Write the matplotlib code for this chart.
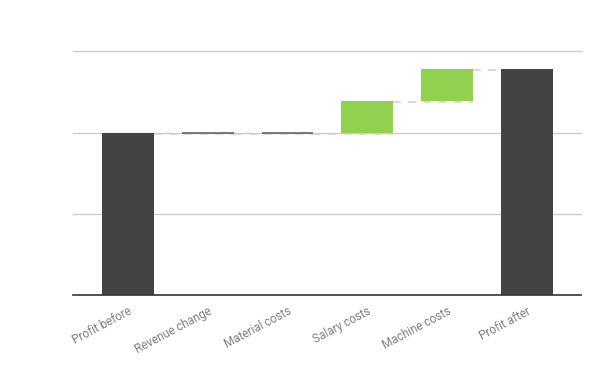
import matplotlib.pyplot as plt
import numpy as np

categories = ["Profit before", "Revenue change", "Material costs",
              "Salary costs", "Machine costs", "Profit after"]
changes = [200, 0, 0, 39, 40]   # first is the starting total
is_total = [True, False, False, False, False, True]

# cumulative levels
levels = np.cumsum(changes)
total_after = levels[-1]
values = changes + [total_after]

bottoms, heights, colors = [], [], []
running = 0
for i, v in enumerate(values):
    if is_total[i]:
        bottoms.append(0)
        heights.append(v)
        colors.append("#434343")
        running = v
    else:
        bottoms.append(running)
        heights.append(v)
        colors.append("#92d050" if v > 0 else "#e06666")
        running += v

fig = plt.figure(figsize=(6, 3.71), dpi=100)
ax = fig.add_axes([0.1217, 0.2049, 0.8466, 0.6563])

x = np.arange(len(categories))
w = 0.65

# gridlines
for g in [100, 200, 300]:
    ax.axhline(g, color="#cccccc", lw=1, zorder=0, clip_on=False)

ax.bar(x, heights, bottom=bottoms, width=w, color=colors, zorder=3)
# zero-change bars show as a thin line
for i, h in enumerate(heights):
    if h == 0:
        ax.hlines(bottoms[i], x[i] - w / 2, x[i] + w / 2, color="#666666", lw=1.2, zorder=4)

# dashed connectors between bars
tops = [b + h for b, h in zip(bottoms, heights)]
for i in range(len(categories) - 1):
    ax.plot([x[i] + w / 2, x[i + 1] + w / 2], [tops[i] - 1.2, tops[i] - 1.2],
            color="#d0d0d0", lw=1.1, dashes=(5, 5), zorder=2)

ax.axhline(0, color="#333333", lw=1.2, zorder=5, clip_on=False)

ax.set_xlim(-0.69, len(categories) - 1 + 0.68)
ax.set_ylim(0, 300)
ax.set_yticks([])
ax.set_xticks(x)
ax.set_xticklabels(categories, rotation=28, ha="right", rotation_mode="anchor",
                   color="#808080", fontsize=8.5, family="Roboto")
ax.tick_params(axis="x", length=0, pad=7)
for s in ax.spines.values():
    s.set_visible(False)

fig.savefig("out.png", dpi=100)
